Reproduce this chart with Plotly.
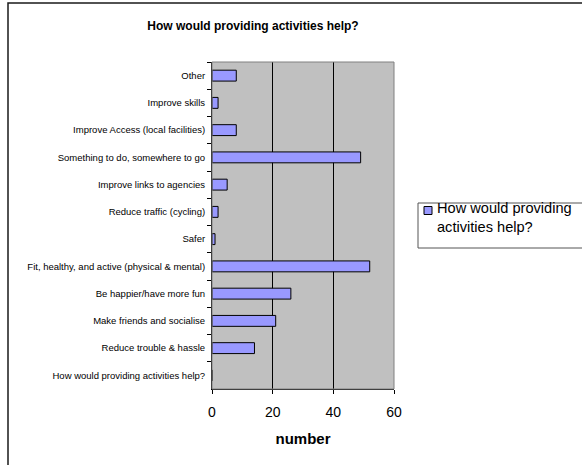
import plotly.graph_objects as go

categories = [
    "Other",
    "Improve skills",
    "Improve Access (local facilities)",
    "Something to do, somewhere to go",
    "Improve links to agencies",
    "Reduce traffic (cycling)",
    "Safer",
    "Fit, healthy, and active (physical & mental)",
    "Be happier/have more fun",
    "Make friends and socialise",
    "Reduce trouble & hassle",
    "How would providing activities help?",
]
values = [8, 2, 8, 49, 5, 2, 1, 52, 26, 21, 14, 0]
x_ticks = [0, 20, 40, 60]
series_name = "How would providing activities help?"
legend_lines = ["How would providing", "activities help?"]

W, H = 582, 465
L, R, T, B = 212, 394, 62, 389  # plot area in pixels

def px_x(p):
    return (p - L) / (R - L)

def px_y(p):
    return (B - p) / (B - T)

FONT = "Arial, Liberation Sans, sans-serif"

fig = go.Figure()
fig.add_trace(go.Bar(
    y=categories,
    x=values,
    orientation="h",
    name=series_name,
    marker=dict(color="#9999FF", line=dict(color="black", width=1)),
    showlegend=False,
))

fig.update_layout(
    width=W, height=H,
    margin=dict(l=L, r=W - R, t=T, b=H - B, pad=0),
    paper_bgcolor="white",
    plot_bgcolor="#C0C0C0",
    bargap=0.6,
    font=dict(family=FONT, color="black"),
    title=dict(
        text="<b>How would providing activities help?</b>",
        font=dict(family=FONT, size=12, color="black"),
        xref="container", yref="container",
        x=253 / W, xanchor="center",
        y=1 - 26 / H, yanchor="middle",
    ),
    xaxis=dict(
        range=[0, 60],
        tickvals=x_ticks,
        ticktext=[str(v) for v in x_ticks],
        showgrid=True, gridcolor="black", gridwidth=1,
        zeroline=False,
        showline=True, linecolor="black", linewidth=1,
        ticks="outside", ticklen=4, tickcolor="black", tickwidth=1,
        ticklabelstandoff=6,
        tickfont=dict(family=FONT, size=14, color="black"),
        title=dict(text="<b>number</b>", font=dict(family=FONT, size=15, color="black"), standoff=14),
        automargin=False,
        fixedrange=True,
    ),
    yaxis=dict(
        categoryorder="array",
        categoryarray=categories,
        autorange="reversed",
        showgrid=False,
        zeroline=False,
        showline=True, linecolor="black", linewidth=1,
        ticks="outside", ticklen=4, tickcolor="black", tickwidth=1,
        tickson="boundaries",
        ticklabelstandoff=4,
        tickfont=dict(family=FONT, size=9.5, color="black"),
        automargin=False,
        fixedrange=True,
    ),
)

shapes = []
# plot-area border (gray)
shapes.append(dict(type="rect", xref="paper", yref="paper", x0=0, x1=1, y0=0, y1=1,
                   line=dict(color="#808080", width=1), fillcolor="rgba(0,0,0,0)", layer="above"))
# outer chart border
shapes.append(dict(type="rect", xref="paper", yref="paper",
                   x0=px_x(8), x1=px_x(600), y0=px_y(480), y1=px_y(3),
                   line=dict(color="#1a1a1a", width=1.5), fillcolor="rgba(0,0,0,0)", layer="above"))
# legend box
shapes.append(dict(type="rect", xref="paper", yref="paper",
                   x0=px_x(418), x1=px_x(600), y0=px_y(248), y1=px_y(203),
                   line=dict(color="#555555", width=1), fillcolor="white", layer="above"))
# legend swatch
shapes.append(dict(type="rect", xref="paper", yref="paper",
                   x0=px_x(424), x1=px_x(432), y0=px_y(214.5), y1=px_y(206.5),
                   line=dict(color="black", width=1), fillcolor="#9999FF", layer="above"))
fig.update_layout(shapes=shapes)

fig.add_annotation(
    xref="paper", yref="paper",
    x=px_x(436), y=px_y(217.5), xanchor="left", yanchor="middle",
    text="<br>".join(legend_lines),
    showarrow=False, align="left", borderpad=0,
    font=dict(family=FONT, size=14.6, color="black"),
)

fig.write_html("out.html")
